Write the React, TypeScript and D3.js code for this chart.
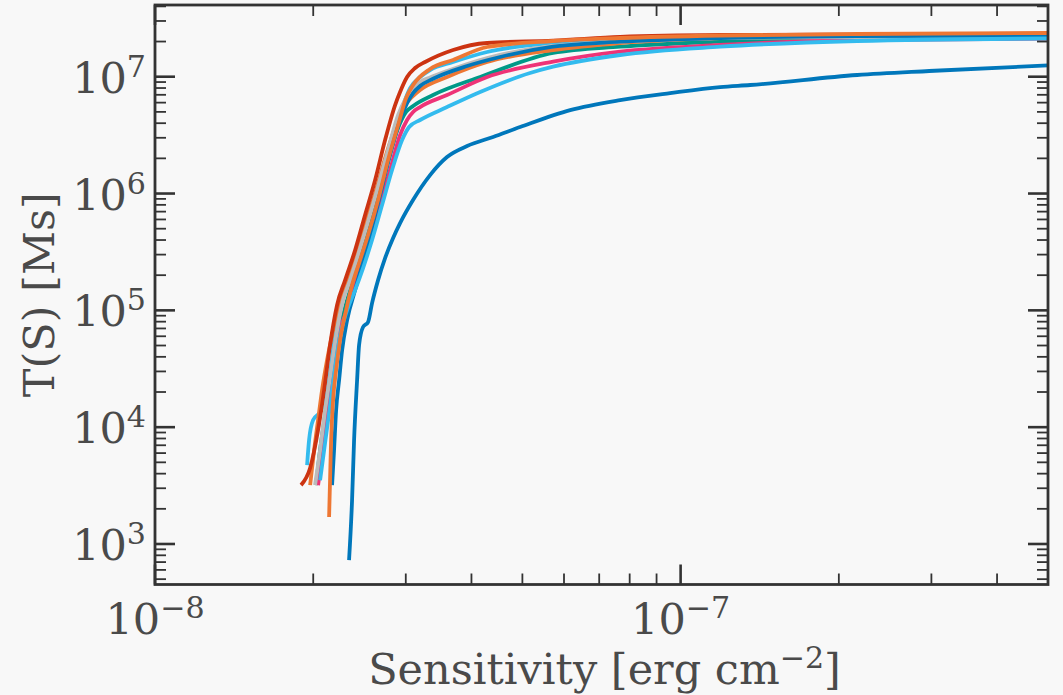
import React, { useEffect } from "react";
import * as d3 from "d3";

// Sensitivity values are given in units of 1e-8 erg cm^-2, T(S) in Ms
const S_UNIT = 1e-8;

const blueLow: [number, number][] = [
  [2.34, 728], [2.371, 2377], [2.392, 7762], [2.424, 2.535e4], [2.445, 5.05e4], [2.488, 7.2e4],
  [2.543, 7.94e4], [2.588, 1.153e5], [2.657, 1.815e5], [2.74, 2.8e5], [2.838, 4.16e5], [2.926, 5.58e5],
  [3.097, 8.8e5], [3.337, 1.439e6], [3.594, 2.054e6], [3.925, 2.551e6], [4.398, 3.048e6], [4.95, 3.707e6],
  [6.164, 5.18e6], [7.671, 6.31e6], [9.55, 7.25e6], [11.89, 8.16e6], [13.56, 8.49e6], [21.67, 1.034e7],
  [29.71, 1.119e7], [50.04, 1.25e7],
];
const cyanUp: [number, number][] = [
  [1.947, 4740], [1.964, 7760], [1.999, 1.15e4], [2.061, 1.347e4], [2.125, 1.959e4], [2.182, 4.57e4],
  [2.23, 1.006e5], [2.28, 1.492e5], [2.351, 2.01e5], [2.424, 2.7e5], [2.51, 4.41e5], [2.623, 8.8e5],
  [2.74, 1.754e6], [2.863, 3.5e6], [2.965, 5.72e6], [3.057, 8.0e6], [3.194, 9.94e6], [3.337, 1.141e7],
  [3.691, 1.336e7], [4.285, 1.627e7], [5.72, 1.955e7], [7.672, 2.103e7], [11.89, 2.231e7], [21.67, 2.275e7],
  [50.05, 2.275e7],
];
const tealA: [number, number][] = [
  [2.025, 3190], [2.061, 6370], [2.107, 1.27e4], [2.163, 2.53e4], [2.22, 5.05e4], [2.28, 9.11e4],
  [2.351, 1.492e5], [2.434, 2.44e5], [2.532, 4.41e5], [2.646, 8.8e5], [2.776, 1.94e6], [2.901, 3.64e6],
  [3.004, 4.99e6], [3.098, 5.61e6], [3.381, 6.97e6], [4.155, 9.94e6], [5.72, 1.596e7], [7.672, 1.807e7],
  [11.89, 1.994e7], [21.67, 2.145e7], [50.05, 2.209e7],
];
const orangeA: [number, number][] = [
  [1.973, 3190], [2.008, 6370], [2.043, 1.15e4], [2.079, 2.08e4], [2.125, 3.75e4], [2.182, 6.78e4],
  [2.25, 1.225e5], [2.33, 2.01e5], [2.424, 3.28e5], [2.521, 5.7e5], [2.634, 1.072e6], [2.752, 2.14e6],
  [2.875, 3.86e6], [2.991, 5.72e6], [3.084, 6.7e6], [3.194, 7.69e6], [3.595, 9.94e6], [4.285, 1.336e7],
  [5.72, 1.693e7], [7.672, 1.944e7], [11.89, 2.145e7], [21.67, 2.275e7], [50.05, 2.343e7],
];
const redA: [number, number][] = [
  [1.896, 3190], [1.973, 4470], [2.043, 9450], [2.098, 2.08e4], [2.153, 5.05e4], [2.22, 1.11e5],
  [2.3, 1.817e5], [2.403, 3.28e5], [2.51, 6.55e5], [2.623, 1.305e6], [2.74, 2.87e6], [2.863, 5.72e6],
  [2.926, 7.4e6], [3.017, 9.94e6], [3.125, 1.187e7], [3.265, 1.336e7], [3.691, 1.693e7], [4.285, 1.944e7],
  [5.72, 2.034e7], [7.672, 2.188e7], [11.89, 2.275e7], [21.67, 2.298e7], [50.05, 2.32e7],
];
const magentaA: [number, number][] = [
  [2.043, 3190], [2.079, 5770], [2.116, 1.15e4], [2.153, 2.08e4], [2.191, 3.75e4], [2.23, 6.14e4],
  [2.3, 9.11e4], [2.371, 1.352e5], [2.456, 2.21e5], [2.566, 4.0e5], [2.681, 7.97e5], [2.801, 1.589e6],
  [2.926, 3.17e6], [3.017, 4.26e6], [3.098, 4.99e6], [3.194, 5.5e6], [3.595, 6.97e6], [4.285, 9.94e6],
  [5.72, 1.344e7], [7.672, 1.637e7], [11.89, 1.868e7], [21.67, 2.062e7], [50.05, 2.123e7],
];
const greyA: [number, number][] = [
  [2.016, 3190], [2.061, 6370], [2.107, 1.401e4], [2.163, 3.08e4], [2.22, 6.78e4], [2.28, 1.225e5],
  [2.351, 1.817e5], [2.434, 2.97e5], [2.532, 5.38e5], [2.646, 1.072e6], [2.776, 2.36e6], [2.901, 4.7e6],
  [2.991, 6.32e6], [3.098, 7.69e6], [3.194, 9.01e6], [3.337, 9.85e6], [3.595, 1.119e7], [4.285, 1.446e7],
  [5.72, 1.832e7], [7.672, 2.002e7], [11.89, 2.145e7], [21.67, 2.188e7], [50.05, 2.188e7],
];
const blueUp: [number, number][] = [
  [2.172, 3190], [2.191, 6370], [2.211, 1.401e4], [2.24, 2.53e4], [2.27, 4.57e4], [2.32, 8.26e4],
  [2.403, 1.492e5], [2.477, 2.44e5], [2.566, 4.41e5], [2.681, 9.71e5], [2.801, 2.14e6], [2.926, 4.26e6],
  [3.017, 5.95e6], [3.098, 7.25e6], [3.194, 8.32e6], [3.381, 9.6e6], [3.925, 1.235e7], [4.535, 1.475e7],
  [5.72, 1.807e7], [7.672, 1.994e7], [11.89, 2.145e7], [21.67, 2.231e7], [50.05, 2.253e7],
];
const cyanLow: [number, number][] = [
  [2.061, 3520], [2.098, 6370], [2.135, 1.15e4], [2.172, 2.08e4], [2.211, 3.75e4], [2.25, 6.14e4],
  [2.32, 1.006e5], [2.403, 1.492e5], [2.488, 2.3e5], [2.588, 4.0e5], [2.704, 7.97e5], [2.825, 1.589e6],
  [2.952, 2.87e6], [3.044, 3.71e6], [3.194, 4.26e6], [3.595, 5.5e6], [4.155, 7.4e6], [5.171, 1.076e7],
  [5.72, 1.218e7], [7.672, 1.534e7], [11.89, 1.807e7], [21.67, 2.022e7], [50.05, 2.123e7],
];
const orangeB: [number, number][] = [
  [2.144, 1700], [2.153, 3520], [2.163, 7760], [2.182, 1.706e4], [2.211, 3.08e4], [2.25, 5.57e4],
  [2.31, 1.006e5], [2.371, 1.647e5], [2.456, 2.7e5], [2.543, 4.41e5], [2.657, 8.8e5], [2.776, 1.94e6],
  [2.901, 3.86e6], [3.004, 6.57e6], [3.098, 8.49e6], [3.337, 1.164e7], [3.691, 1.39e7], [4.285, 1.796e7],
  [5.72, 2.022e7], [7.672, 2.145e7], [11.89, 2.253e7], [21.67, 2.32e7], [50.05, 2.366e7],
];

const SERIES: { data: [number, number][]; color: string }[] = [
  { data: blueLow, color: "#0077BB" },
  { data: cyanUp, color: "#33BBEE" },
  { data: tealA, color: "#009988" },
  { data: orangeA, color: "#EE7733" },
  { data: redA, color: "#CC3311" },
  { data: magentaA, color: "#EE3377" },
  { data: greyA, color: "#BBBBBB" },
  { data: blueUp, color: "#0077BB" },
  { data: cyanLow, color: "#33BBEE" },
  { data: orangeB, color: "#EE7733" },
];

const X_DOMAIN: [number, number] = [1e-8, 5e-7];
const Y_DOMAIN: [number, number] = [450, 4.11e7];
const X_MAJOR = [1e-8, 1e-7];
const X_MAJOR_EXP = ["\u22128", "\u22127"];
const Y_MAJOR = [1e3, 1e4, 1e5, 1e6, 1e7];
const Y_MAJOR_EXP = ["3", "4", "5", "6", "7"];
const X_LABEL = "Sensitivity [erg cm";
const X_LABEL_SUP = "\u22122";
const Y_LABEL = "T(S) [Ms]";

const W = 1063;
const H = 695;
const M = { left: 155, right: 1048, top: 5, bottom: 584.5 };
const FONT = "DejaVu Serif";
const FS = 43;
const TXT = "#4a4a4a";
const AX = "#333333";
const BG = "#f8f8f8";

export default function App() {
  useEffect(() => {
    document.body.style.margin = "0";
    document.body.style.background = BG;
  }, []);

  const x = d3.scaleLog().domain(X_DOMAIN).range([M.left, M.right]);
  const y = d3.scaleLog().domain(Y_DOMAIN).range([M.bottom, M.top]);
  const line = d3
    .line<[number, number]>()
    .x((d) => x(d[0] * S_UNIT))
    .y((d) => y(d[1]))
    .curve(d3.curveMonotoneX);

  const xMinor: number[] = [];
  for (let e = -8; e <= -7; e++)
    for (let m = 2; m <= 9; m++) {
      const v = m * Math.pow(10, e);
      if (v < X_DOMAIN[1] * 0.999) xMinor.push(v);
    }
  const yMinor: number[] = [];
  for (let e = 2; e <= 7; e++)
    for (let m = 2; m <= 9; m++) {
      const v = m * Math.pow(10, e);
      if (v > Y_DOMAIN[0] && v < Y_DOMAIN[1]) yMinor.push(v);
    }

  const MAJ = 20;
  const MIN = 11;

  return (
    <svg width={W} height={H} style={{ position: "absolute", left: 0, top: 0, background: BG }}>
      <rect x={0} y={0} width={W} height={H} fill={BG} />
      <defs>
        <clipPath id="plotclip">
          <rect x={M.left} y={M.top} width={M.right - M.left} height={M.bottom - M.top} />
        </clipPath>
      </defs>
      <g clipPath="url(#plotclip)">
        {SERIES.map((s, i) => (
          <path key={i} d={line(s.data) || ""} fill="none" stroke={s.color} strokeWidth={3.8}
            strokeLinejoin="round" strokeLinecap="butt" />
        ))}
      </g>
      {/* minor ticks */}
      <g stroke={AX} strokeWidth={1.8}>
        {xMinor.map((v, i) => (
          <g key={"xm" + i}>
            <line x1={x(v)} x2={x(v)} y1={M.bottom} y2={M.bottom - MIN} />
            <line x1={x(v)} x2={x(v)} y1={M.top} y2={M.top + MIN} />
          </g>
        ))}
        {yMinor.map((v, i) => (
          <g key={"ym" + i}>
            <line x1={M.left} x2={M.left + MIN} y1={y(v)} y2={y(v)} />
            <line x1={M.right} x2={M.right - MIN} y1={y(v)} y2={y(v)} />
          </g>
        ))}
      </g>
      <g stroke={AX} strokeWidth={2.6}>
        {X_MAJOR.map((v, i) => (
          <g key={"xM" + i}>
            <line x1={x(v)} x2={x(v)} y1={M.bottom} y2={M.bottom - MAJ} />
            <line x1={x(v)} x2={x(v)} y1={M.top} y2={M.top + MAJ} />
          </g>
        ))}
        {Y_MAJOR.map((v, i) => (
          <g key={"yM" + i}>
            <line x1={M.left} x2={M.left + MAJ} y1={y(v)} y2={y(v)} />
            <line x1={M.right} x2={M.right - MAJ} y1={y(v)} y2={y(v)} />
          </g>
        ))}
      </g>
      <rect x={M.left} y={M.top} width={M.right - M.left} height={M.bottom - M.top}
        fill="none" stroke={AX} strokeWidth={2.8} />
      {/* x tick labels */}
      {X_MAJOR.map((v, i) => (
        <text key={"xl" + i} x={x(v)} y={634} textAnchor="middle" fontFamily={FONT} fontSize={FS} fill={TXT}>
          <tspan>10</tspan>
          <tspan dy={-16} fontSize={FS * 0.7}>{X_MAJOR_EXP[i]}</tspan>
        </text>
      ))}
      {/* y tick labels */}
      {Y_MAJOR.map((v, i) => (
        <text key={"yl" + i} x={146} y={y(v) + 16} textAnchor="end" fontFamily={FONT} fontSize={FS} fill={TXT}>
          <tspan>10</tspan>
          <tspan dy={-16} fontSize={FS * 0.7}>{Y_MAJOR_EXP[i]}</tspan>
        </text>
      ))}
      {/* axis labels */}
      <text x={(M.left + M.right) / 2 + 3} y={684} textAnchor="middle" fontFamily={FONT} fontSize={FS} fill={TXT}>
        <tspan>{X_LABEL}</tspan>
        <tspan dy={-16} fontSize={FS * 0.7}>{X_LABEL_SUP}</tspan>
        <tspan dy={16}>]</tspan>
      </text>
      <text transform={`translate(54, ${(M.top + M.bottom) / 2}) rotate(-90)`} textAnchor="middle"
        fontFamily={FONT} fontSize={FS} fill={TXT}>
        {Y_LABEL}
      </text>
    </svg>
  );
}
